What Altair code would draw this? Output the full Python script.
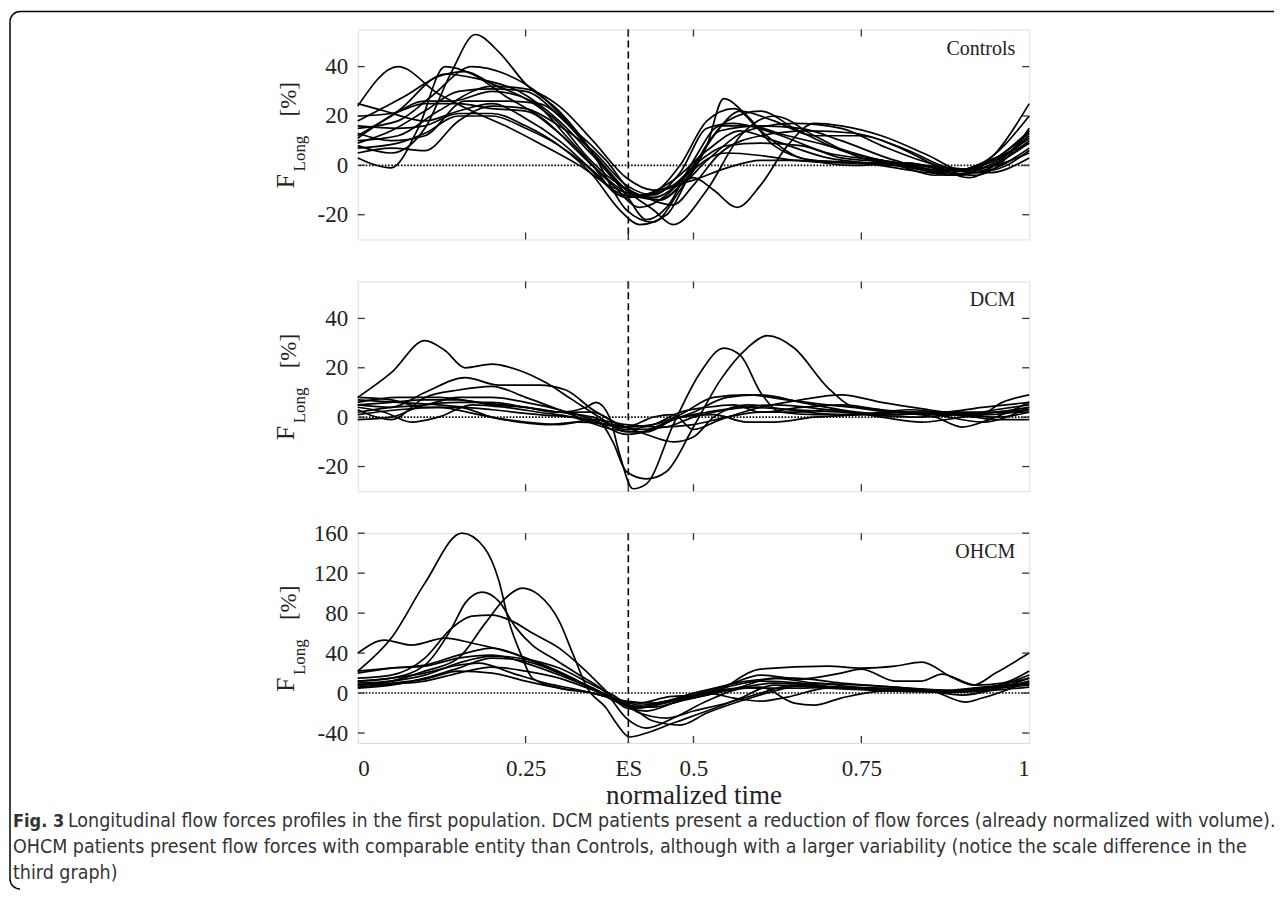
import altair as alt
import pandas as pd

ES = 0.403
X_TICKS = [0, 0.25, ES, 0.5, 0.75, 1]
Y_TICKS_SMALL = [-20, 0, 20, 40]
Y_TICKS_OHCM = [-40, 0, 40, 80, 120, 160]
DOMAIN_SMALL = [-30, 55]
DOMAIN_OHCM = [-50, 160]
PANEL_NAMES = ["Controls", "DCM", "OHCM"]

CONTROLS = [
    [(0, 24), (0.06, 40), (0.12, 29), (0.17, 22), (0.22, 16), (0.27, 9), (0.33, 0), (0.38, -9), (0.42, -12), (0.47, -6), (0.52, 6), (0.57, 14), (0.62, 10), (0.7, 3), (0.8, 0), (0.88, -3), (0.94, 2), (1, 9)],
    [(0, 8), (0.05, 5), (0.1, 15), (0.14, 38), (0.175, 53), (0.21, 46), (0.25, 33), (0.3, 22), (0.35, 5), (0.4, -18), (0.44, -23), (0.48, -10), (0.52, 8), (0.545, 27), (0.58, 20), (0.62, 8), (0.68, 2), (0.75, 1), (0.85, -3), (0.9, -4), (0.95, 5), (1, 25)],
    [(0, 3), (0.05, -1), (0.09, 15), (0.13, 40), (0.17, 37), (0.22, 28), (0.28, 18), (0.33, 5), (0.38, -8), (0.42, -17), (0.46, -12), (0.5, 0), (0.55, 18), (0.6, 22), (0.65, 15), (0.72, 6), (0.8, 1), (0.87, -3), (0.93, 0), (1, 14)],
    [(0, 15), (0.06, 18), (0.11, 28), (0.17, 40), (0.22, 37), (0.27, 29), (0.32, 15), (0.36, 2), (0.4, -10), (0.44, -18), (0.47, -24), (0.52, -10), (0.57, 12), (0.62, 20), (0.68, 12), (0.75, 3), (0.82, 0), (0.88, -4), (0.94, 0), (1, 12)],
    [(0, 12), (0.06, 22), (0.13, 37), (0.18, 35), (0.24, 30), (0.3, 18), (0.35, 4), (0.4, -10), (0.44, -13), (0.49, -4), (0.54, 14), (0.6, 16), (0.66, 15), (0.72, 10), (0.8, 2), (0.87, -2), (0.93, -1), (1, 10)],
    [(0, 10), (0.06, 12), (0.12, 22), (0.2, 32), (0.25, 31), (0.3, 24), (0.35, 10), (0.4, -5), (0.44, -10), (0.48, -8), (0.52, 2), (0.58, 14), (0.65, 17), (0.72, 15), (0.78, 8), (0.85, 1), (0.9, -2), (0.95, 3), (1, 13)],
    [(0, 20), (0.05, 21), (0.1, 25), (0.15, 25), (0.2, 23), (0.25, 22), (0.3, 13), (0.35, 0), (0.4, -11), (0.45, -14), (0.5, -5), (0.53, -10), (0.565, -17), (0.6, -8), (0.64, 8), (0.68, 17), (0.72, 16), (0.78, 12), (0.85, 4), (0.9, -2), (0.95, 0), (1, 5)],
    [(0, 13), (0.05, 10), (0.1, 12), (0.16, 26), (0.22, 26), (0.27, 25), (0.32, 15), (0.37, 2), (0.41, -11), (0.45, -14), (0.49, -5), (0.53, 12), (0.57, 22), (0.62, 18), (0.68, 12), (0.75, 12), (0.8, 8), (0.86, 0), (0.91, -5), (0.96, 2), (1, 9)],
    [(0, 5), (0.05, 7), (0.1, 6), (0.15, 18), (0.2, 24), (0.25, 23), (0.3, 16), (0.35, 6), (0.4, -8), (0.44, -12), (0.48, -3), (0.52, 15), (0.56, 17), (0.62, 13), (0.7, 5), (0.78, 2), (0.86, -1), (0.92, -3), (1, 7)],
    [(0, 18), (0.07, 28), (0.12, 36), (0.16, 38), (0.2, 33), (0.25, 27), (0.3, 17), (0.34, 4), (0.38, -6), (0.42, -12), (0.47, -16), (0.5, -8), (0.54, 5), (0.6, 12), (0.67, 14), (0.74, 13), (0.82, 6), (0.88, -1), (0.94, -3), (1, 3)],
    [(0, 9), (0.05, 14), (0.1, 22), (0.15, 30), (0.2, 31), (0.25, 30), (0.3, 20), (0.35, 5), (0.4, -12), (0.43, -22), (0.46, -17), (0.5, 2), (0.54, 16), (0.58, 16), (0.64, 12), (0.7, 8), (0.78, 2), (0.86, -2), (0.92, -4), (0.97, 4), (1, 15)],
    [(0, 25), (0.04, 22), (0.1, 18), (0.15, 22), (0.2, 25), (0.25, 19), (0.3, 10), (0.35, -2), (0.4, -13), (0.44, -11), (0.48, 0), (0.52, 18), (0.56, 23), (0.6, 14), (0.66, 3), (0.74, 0), (0.82, 1), (0.88, -2), (0.94, 1), (1, 11)],
    [(0, 16), (0.06, 15), (0.1, 16), (0.15, 21), (0.2, 21), (0.25, 16), (0.3, 8), (0.35, -4), (0.39, -18), (0.42, -24), (0.46, -20), (0.5, -2), (0.55, 5), (0.6, 4), (0.65, 2), (0.72, 1), (0.8, 1), (0.88, -1), (0.94, -2), (1, 6)],
    [(0, 7), (0.06, 9), (0.1, 13), (0.15, 20), (0.2, 20), (0.25, 15), (0.3, 8), (0.34, 0), (0.38, -10), (0.42, -13), (0.46, -9), (0.5, -6), (0.55, -1), (0.6, 2), (0.66, 2), (0.73, 1), (0.8, 0), (0.86, -4), (0.92, -3), (0.97, 5), (1, 14)],
    [(0, 11), (0.05, 20), (0.1, 26), (0.14, 26), (0.2, 30), (0.26, 26), (0.31, 12), (0.35, 0), (0.39, -12), (0.43, -12), (0.47, -8), (0.51, 2), (0.55, 8), (0.6, 9), (0.66, 8), (0.72, 3), (0.8, 1), (0.87, -3), (0.93, 1), (1, 20)],
]

DCM = [
    [(0, 8), (0.05, 18), (0.1, 31), (0.13, 27), (0.16, 20), (0.2, 21.5), (0.24, 19), (0.28, 14), (0.32, 7), (0.36, 0), (0.4, -6), (0.43, -6), (0.47, -1), (0.52, 2), (0.58, 4), (0.65, 3), (0.72, 2), (0.8, 1), (0.88, 2), (0.94, 1), (1, 3)],
    [(0, 5), (0.05, 4), (0.1, 10), (0.16, 16), (0.21, 13), (0.27, 13), (0.31, 11), (0.35, 3), (0.39, -3), (0.43, -7), (0.47, -10), (0.5, -8), (0.53, 0), (0.58, 5), (0.64, 3), (0.72, 1), (0.8, 2), (0.87, 2), (0.93, 4), (1, 6)],
    [(0, 3), (0.05, -1), (0.1, 8), (0.15, 11), (0.2, 12.5), (0.25, 8), (0.3, 3), (0.35, -2), (0.4, -4), (0.44, -3), (0.48, 1), (0.53, 8), (0.58, 9), (0.64, 7), (0.7, 5), (0.78, 3), (0.86, 1), (0.93, -2), (1, 4)],
    [(0, 6), (0.06, 8), (0.12, 8), (0.18, 6), (0.25, 4), (0.3, 2), (0.34, 4), (0.355, 6), (0.375, 0), (0.39, -15), (0.41, -29), (0.43, -27), (0.47, -3), (0.51, 18), (0.545, 28), (0.57, 25), (0.6, 10), (0.63, 2), (0.68, 1), (0.75, 1), (0.82, 2), (0.9, 1), (0.95, 3), (1, 5)],
    [(0, 7), (0.06, 6), (0.12, 5), (0.2, 3), (0.27, 1), (0.32, 0), (0.36, -2), (0.38, -10), (0.4, -22), (0.43, -25), (0.46, -22), (0.5, -4), (0.54, 15), (0.58, 28), (0.61, 33), (0.65, 28), (0.7, 12), (0.74, 4), (0.8, 2), (0.88, 1), (0.95, 2), (1, 4)],
    [(0, 5), (0.05, 6), (0.1, 7), (0.15, 7), (0.2, 5), (0.25, 4), (0.3, 2), (0.35, 0), (0.4, -5), (0.44, -3), (0.48, 2), (0.52, 4), (0.56, 5), (0.6, 2), (0.66, 4), (0.72, 5), (0.8, 2), (0.86, 0), (0.9, -4), (0.94, -1), (1, 6)],
    [(0, 2), (0.05, 4), (0.1, 5), (0.15, 8), (0.2, 8), (0.25, 6), (0.3, 3), (0.35, -1), (0.4, -7), (0.44, -5), (0.48, 0), (0.53, 1), (0.58, -2), (0.62, -2), (0.68, 0), (0.75, 1), (0.82, 3), (0.88, 2), (0.94, 2), (1, 2)],
    [(0, -1), (0.05, 0), (0.1, 5), (0.15, 6), (0.2, 6), (0.25, 4), (0.3, 2), (0.35, 2), (0.4, -4), (0.44, 0), (0.47, 1), (0.5, -5), (0.54, -1), (0.6, 4), (0.66, 7), (0.72, 9), (0.78, 6), (0.85, 3), (0.9, 1), (0.95, -1), (1, -1)],
    [(0, 4), (0.04, 2), (0.08, -2), (0.12, 0), (0.17, 5), (0.22, 4), (0.27, 2), (0.32, 0), (0.38, -5), (0.42, -6), (0.46, -2), (0.5, 2), (0.55, 8), (0.6, 9), (0.66, 6), (0.72, 3), (0.8, 1), (0.86, 2), (0.92, 0), (0.96, 6), (1, 9)],
    [(0, 8), (0.05, 7), (0.1, 4), (0.15, 4), (0.2, 0), (0.25, -2), (0.3, -3), (0.35, -1), (0.4, -3), (0.45, -4), (0.5, -3), (0.55, 0), (0.6, 2), (0.65, 2), (0.7, 3), (0.78, 0), (0.84, -2), (0.9, 0), (0.95, 2), (1, 3)],
    [(0, 1), (0.06, 3), (0.12, 4), (0.18, 1), (0.24, -2), (0.28, -3), (0.33, -2), (0.38, -3), (0.42, -5), (0.46, -4), (0.5, 0), (0.55, 3), (0.62, 5), (0.7, 3), (0.76, 1), (0.83, 0), (0.9, 1), (0.95, 0), (1, 2)],
]

OHCM = [
    [(0, 22), (0.05, 55), (0.1, 110), (0.155, 160), (0.188, 146), (0.21, 113), (0.225, 72), (0.243, 39), (0.26, 15), (0.3, 5), (0.35, 0), (0.38, -6), (0.41, -15), (0.45, -10), (0.5, -3), (0.56, 4), (0.62, 10), (0.68, 8), (0.75, 4), (0.82, 3), (0.88, 2), (0.93, 5), (1, 15)],
    [(0, 12), (0.05, 15), (0.1, 28), (0.14, 65), (0.16, 90), (0.185, 101), (0.21, 92), (0.235, 66), (0.26, 48), (0.29, 35), (0.33, 18), (0.37, 0), (0.4, -25), (0.43, -35), (0.47, -25), (0.52, -8), (0.58, 5), (0.65, 5), (0.72, 6), (0.8, 3), (0.88, 2), (0.94, 4), (1, 12)],
    [(0, 8), (0.05, 12), (0.1, 22), (0.15, 35), (0.19, 70), (0.22, 95), (0.245, 105), (0.27, 98), (0.3, 72), (0.32, 40), (0.342, 5), (0.37, -15), (0.385, -30), (0.405, -44), (0.43, -40), (0.47, -30), (0.52, -18), (0.57, -5), (0.62, 8), (0.7, 5), (0.8, 2), (0.88, 1), (0.95, 6), (1, 10)],
    [(0, 15), (0.05, 18), (0.1, 35), (0.14, 65), (0.17, 77), (0.2, 78), (0.23, 72), (0.26, 60), (0.3, 45), (0.34, 22), (0.37, 2), (0.4, -15), (0.43, -18), (0.47, -10), (0.52, 2), (0.58, 12), (0.65, 15), (0.72, 10), (0.8, 6), (0.88, 2), (0.94, 5), (1, 18)],
    [(0, 40), (0.04, 53), (0.08, 48), (0.13, 55), (0.17, 50), (0.22, 42), (0.27, 30), (0.32, 15), (0.36, 0), (0.4, -12), (0.44, -14), (0.48, -8), (0.53, 0), (0.6, 24), (0.7, 27), (0.75, 25), (0.8, 27), (0.84, 31), (0.887, 15), (0.917, 8), (0.95, 20), (1, 40)],
    [(0, 20), (0.05, 25), (0.1, 28), (0.15, 38), (0.2, 45), (0.25, 35), (0.3, 20), (0.35, 5), (0.38, -5), (0.41, -15), (0.45, -10), (0.5, 0), (0.55, 8), (0.6, 18), (0.66, 14), (0.72, 20), (0.75, 24), (0.8, 12), (0.84, 12), (0.87, 19), (0.92, 8), (0.96, 10), (1, 22)],
    [(0, 10), (0.05, 12), (0.1, 18), (0.15, 30), (0.2, 37), (0.25, 34), (0.3, 25), (0.35, 8), (0.38, -2), (0.42, -20), (0.46, -25), (0.5, -18), (0.55, -10), (0.6, 0), (0.65, 8), (0.7, 6), (0.78, 5), (0.85, 3), (0.905, -9), (0.93, -5), (1, 12)],
    [(0, 5), (0.05, 8), (0.1, 15), (0.15, 25), (0.2, 35), (0.25, 32), (0.3, 20), (0.35, 5), (0.39, -8), (0.42, -10), (0.46, -4), (0.5, -2), (0.55, 4), (0.6, 6), (0.65, -10), (0.68, -12), (0.72, -5), (0.78, 2), (0.85, 3), (0.9, 2), (0.95, 5), (1, 8)],
    [(0, 8), (0.05, 10), (0.1, 14), (0.15, 22), (0.2, 20), (0.25, 12), (0.3, 5), (0.35, 0), (0.4, -8), (0.44, -10), (0.48, -5), (0.52, 0), (0.56, -5), (0.6, -8), (0.64, -4), (0.7, 5), (0.78, 4), (0.85, 2), (0.9, 1), (0.95, 3), (1, 6)],
    [(0, 12), (0.05, 15), (0.1, 20), (0.15, 28), (0.18, 30), (0.23, 20), (0.28, 10), (0.33, 3), (0.38, -5), (0.42, -12), (0.46, -8), (0.5, -3), (0.55, 6), (0.6, 12), (0.66, 10), (0.72, 5), (0.8, 3), (0.86, 1), (0.9, -2), (0.95, 4), (1, 15)],
    [(0, 22), (0.05, 25), (0.1, 27), (0.15, 35), (0.2, 38), (0.25, 30), (0.3, 18), (0.35, 4), (0.39, -10), (0.42, -15), (0.47, -8), (0.52, -2), (0.57, 6), (0.62, 15), (0.68, 10), (0.75, 8), (0.82, 5), (0.88, 3), (0.93, 6), (1, 10)],
    [(0, 6), (0.05, 9), (0.1, 12), (0.15, 20), (0.2, 26), (0.25, 22), (0.3, 15), (0.35, 3), (0.4, -10), (0.44, -28), (0.48, -32), (0.52, -20), (0.57, -8), (0.62, 2), (0.68, 10), (0.74, 6), (0.82, 3), (0.88, 1), (0.94, 4), (1, 9)],
]

CAPTION_BOLD = "Fig. 3"
CAPTION_LINES = [
    "Longitudinal flow forces profiles in the first population. DCM patients present a reduction of flow forces (already normalized with volume).",
    "OHCM patients present flow forces with comparable entity than Controls, although with a larger variability (notice the scale difference in the",
    "third graph)",
]
X_TITLE = "normalized time"

W, H = 672, 210
SERIF = "Liberation Serif"
CAP_FONT = "'DejaVu Sans Condensed', 'Liberation Sans Narrow', Roboto, sans-serif"
CAP_SIZE = 19.5
INK = "#222222"
CAP_INK = "#333333"
FRAME = "#333333"
TICK = 7


def curves_df(curves):
    rows = []
    for i, c in enumerate(curves):
        for k, (t, v) in enumerate(c):
            rows.append({"curve": i, "order": k, "t": t, "v": v})
    return pd.DataFrame(rows)


def one_row():
    return pd.DataFrame({"a": [0]})


def txt(text, x, y, size, angle=0, align="left", font=SERIF, weight="normal", color=INK):
    return alt.Chart(one_row()).mark_text(
        text=text, font=font, fontSize=size, angle=angle, align=align,
        baseline="alphabetic", color=color, fontWeight=weight,
    ).encode(x=alt.value(x), y=alt.value(y))


def panel(curves, name, domain, yticks, last, first):
    xs = alt.Scale(domain=[0, 1], nice=False, zero=False)
    ys = alt.Scale(domain=domain, nice=False, zero=False)
    xaxis = alt.Axis(
        values=X_TICKS, ticks=False, domain=False, grid=False,
        labels=last, labelFont=SERIF, labelFontSize=23, labelColor=INK,
        labelPadding=15, labelOverlap=False,
        labelExpr="datum.value > 0.4 && datum.value < 0.41 ? 'ES' : format(datum.value, '~g')",
        title=X_TITLE if last else "", titleFont=SERIF, titleFontSize=27,
        titleFontWeight="normal", titleColor=INK, titlePadding=2,
    )
    yaxis = alt.Axis(
        values=yticks, ticks=False, domain=False, grid=False,
        labelFont=SERIF, labelFontSize=23, labelColor=INK, labelPadding=10,
        labelOverlap=False, title="",
        labelExpr="datum.value < 0 ? '-' + abs(datum.value) : '' + datum.value",
    )
    X = lambda: alt.X("t:Q", scale=xs, axis=xaxis)
    Y = lambda: alt.Y("v:Q", scale=ys, axis=yaxis)

    lines = alt.Chart(curves_df(curves)).mark_line(
        interpolate="monotone", color="black", strokeWidth=1.7
    ).encode(x=X(), y=Y(), detail="curve:N", order="order:Q")
    xt = pd.DataFrame({"t": X_TICKS[1:-1]})
    yt = pd.DataFrame({"v": yticks})
    tick_style = dict(color=FRAME, strokeWidth=1.3)
    bottom_ticks = alt.Chart(xt).mark_rule(**tick_style).encode(
        x=X(), y=alt.value(H), y2=alt.value(H - TICK))
    top_ticks = alt.Chart(xt).mark_rule(**tick_style).encode(
        x=X(), y=alt.value(0), y2=alt.value(TICK))
    left_ticks = alt.Chart(yt).mark_rule(**tick_style).encode(
        y=Y(), x=alt.value(0), x2=alt.value(TICK))
    right_ticks = alt.Chart(yt).mark_rule(**tick_style).encode(
        y=Y(), x=alt.value(W - TICK), x2=alt.value(W))
    zero = alt.Chart(pd.DataFrame({"v": [0]})).mark_rule(
        color="black", strokeWidth=1.6, strokeDash=[1.6, 1.6]
    ).encode(y=Y())
    es = alt.Chart(pd.DataFrame({"t": [ES]})).mark_rule(
        color="black", strokeWidth=1.6, strokeDash=[7, 4]
    ).encode(x=X())

    layers = [lines, zero, es, bottom_ticks, top_ticks, left_ticks, right_ticks,
              txt(name, 658, 25, 20, align="right"),
              txt("F", -64, 159, 26, angle=270),
              txt("Long", -53, 142, 17, angle=270),
              txt("[%]", -62, 87, 23, angle=270)]

    if first:
        border = dict(color="black", strokeWidth=1.5)
        layers += [
            alt.Chart(one_row()).mark_rule(**border).encode(
                x=alt.value(-338), x2=alt.value(917), y=alt.value(-18)),
            alt.Chart(one_row()).mark_rule(**border).encode(
                x=alt.value(-348), y=alt.value(-8), y2=alt.value(850)),
            alt.Chart(one_row()).mark_arc(
                color="black", innerRadius=9.25, outerRadius=10.75,
                theta=4.712389, theta2=6.283185,
            ).encode(x=alt.value(-338), y=alt.value(-8)),
            alt.Chart(one_row()).mark_arc(
                color="black", innerRadius=9.25, outerRadius=10.75,
                theta=3.141593, theta2=4.712389,
            ).encode(x=alt.value(-338), y=alt.value(850)),
        ]
    if last:
        layers += [
            txt(CAPTION_BOLD, -345, 294, 18, font=CAP_FONT, weight="bold", color=CAP_INK),
            txt(CAPTION_LINES[0], -290, 294, CAP_SIZE, font=CAP_FONT, color=CAP_INK),
            txt(CAPTION_LINES[1], -345, 320, CAP_SIZE, font=CAP_FONT, color=CAP_INK),
            txt(CAPTION_LINES[2], -345, 346, CAP_SIZE, font=CAP_FONT, color=CAP_INK),
        ]
    return alt.layer(*layers).properties(width=W, height=H)


p1 = panel(CONTROLS, PANEL_NAMES[0], DOMAIN_SMALL, Y_TICKS_SMALL, last=False, first=True)
p2 = panel(DCM, PANEL_NAMES[1], DOMAIN_SMALL, Y_TICKS_SMALL, last=False, first=False)
p3 = panel(OHCM, PANEL_NAMES[2], DOMAIN_OHCM, Y_TICKS_OHCM, last=True, first=False)

chart = alt.vconcat(p1, p2, p3, spacing=42, bounds="flush").properties(
    padding={"left": 0, "top": 1.25, "right": 0, "bottom": 0}
).configure_view(
    stroke=FRAME, strokeWidth=1.3
).configure(background="white")

chart.save("out.html", embed_options={"renderer": "svg", "actions": False})
